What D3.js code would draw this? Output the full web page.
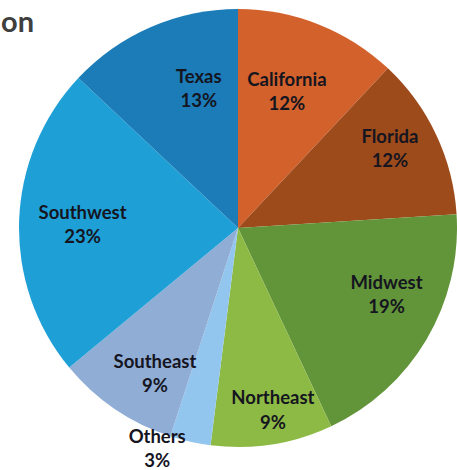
<!DOCTYPE html>
<html>
<head>
<meta charset="utf-8">
<script src="https://cdn.jsdelivr.net/npm/d3@7"></script>
<style>
  html, body { margin: 0; padding: 0; background: #ffffff; }
  svg { display: block; }
</style>
</head>
<body>
<svg id="chart" width="457" height="470"></svg>
<script>
const categories = ["California", "Florida", "Midwest", "Northeast", "Others", "Southeast", "Southwest", "Texas"];
const values = [12, 12, 19, 9, 3, 9, 23, 13];
const percentLabels = ["12%", "12%", "19%", "9%", "3%", "9%", "23%", "13%"];
const titleText = "on";

const colors = {
  California: "#d3612b",
  Florida: "#9e4b1c",
  Midwest: "#62943a",
  Northeast: "#8dba45",
  Others: "#92c6ee",
  Southeast: "#90add5",
  Southwest: "#1ea0d7",
  Texas: "#1b7cb8"
};

// label placement (radius factor, angle nudge in degrees)
const labelLayout = {
  California: [0.635, -1.0],
  Florida: [0.77, -0.5],
  Midwest: [0.755, -4.5],
  Northeast: [0.875, -1.5],
  Others: [1.10, 7.0],
  Southeast: [0.79, -5.5],
  Southwest: [0.71, -2.8],
  Texas: [0.635, 7.0]
};

const svg = d3.select("#chart");
const cx = 238, cy = 228, R = 219;

const data = categories.map((c, i) => ({ name: c, value: values[i], label: percentLabels[i] }));

const pie = d3.pie().value(d => d.value).sort(null);
const arc = d3.arc().innerRadius(0).outerRadius(R);
const arcs = pie(data);

const g = svg.append("g").attr("transform", `translate(${cx},${cy})`);

g.selectAll("path.slice")
  .data(arcs)
  .join("path")
  .attr("class", "slice")
  .attr("d", arc)
  .attr("fill", d => colors[d.data.name]);

const labels = g.selectAll("text.lbl")
  .data(arcs)
  .join("text")
  .attr("class", "lbl")
  .attr("text-anchor", "middle")
  .attr("font-family", "Lato, 'Open Sans', sans-serif")
  .attr("font-weight", "bold")
  .attr("font-size", 18.5)
  .attr("fill", "#15151f")
  .attr("transform", d => {
    const [rf, da] = labelLayout[d.data.name];
    const a = (d.startAngle + d.endAngle) / 2 + da * Math.PI / 180;
    const r = R * rf;
    const x = r * Math.sin(a);
    const y = -r * Math.cos(a);
    return `translate(${x},${y})`;
  });

labels.append("tspan").attr("x", 0).attr("y", -12).text(d => d.data.name);
labels.append("tspan").attr("x", 0).attr("y", 12.5).text(d => d.data.label);

svg.append("text")
  .attr("x", 34)
  .attr("y", 32)
  .attr("text-anchor", "end")
  .attr("font-family", "Lato, 'Open Sans', sans-serif")
  .attr("font-weight", "bold")
  .attr("font-size", 29)
  .attr("fill", "#3f3f3f")
  .text(titleText);
</script>
</body>
</html>
